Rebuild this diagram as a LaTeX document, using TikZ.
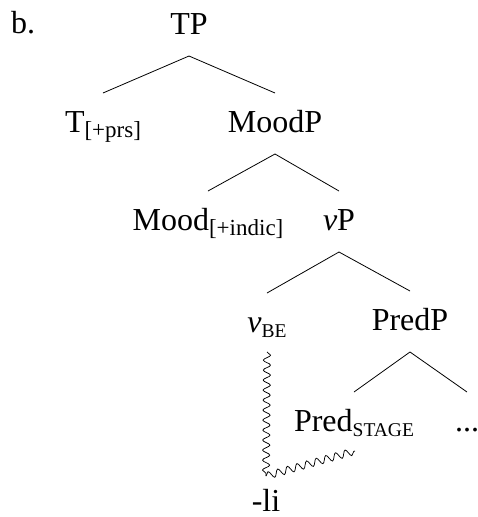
\documentclass[tikz,border=0pt]{standalone}
\usepackage{fontspec}
\setmainfont{Liberation Serif}
\usetikzlibrary{decorations.pathmorphing}

% lowered subscripts: bracketed features and small-capital labels
\newcommand\lowsub[1]{\raisebox{-5pt}{\fontsize{23}{27}\selectfont #1}}
\newcommand\capsub[1]{\raisebox{-5pt}{\fontsize{19.5}{23}\selectfont #1}}

\begin{document}
\begin{tikzpicture}[x=1pt,y=-1pt,
  lbl/.style={anchor=base,inner sep=0pt,font=\fontsize{32}{38}\selectfont},
  branch/.style={line width=0.8pt},
  wavy/.style={line width=0.75pt,decorate,
    decoration={snake,segment length=10pt,amplitude=3.6pt}}]
\useasboundingbox (0,0) rectangle (478,517);

% labels
\node[lbl,anchor=base west] (ex) at (11,33) {b.};
\node[lbl] (TP)    at (189,34)  {TP};
\node[lbl] (T)     at (103,132) {T\lowsub{[+prs]}};
\node[lbl] (MoodP) at (275,132) {MoodP};
\node[lbl] (Mood)  at (208,230) {Mood\lowsub{[+indic]}};
\node[lbl] (vP)    at (339,230) {\textit{v}P};
\node[lbl] (vBE)   at (267,332) {\textit{v}\capsub{BE}};
\node[lbl] (PredP) at (410,330) {PredP};
\node[lbl] (Pred)  at (354,431) {Pred\capsub{STAGE}};
\node[lbl] (dots)  at (467,431) {...};
\node[lbl] (li)    at (266,511) {-li};

% branches
\foreach \p/\c in {TP/T,TP/MoodP,MoodP/Mood,MoodP/vP,vP/vBE,vP/PredP,PredP/Pred,PredP/dots}
  \draw[branch] ([yshift=-22pt]\p.base) -- ([yshift=39pt]\c.base);

% head movement path
\coordinate (bend) at (266,476);
\draw[wavy] ([yshift=-20pt]vBE.base) -- (bend);
\draw[wavy] (bend) -- ([xshift=1pt,yshift=-20pt]Pred.base);
\end{tikzpicture}
\end{document}
